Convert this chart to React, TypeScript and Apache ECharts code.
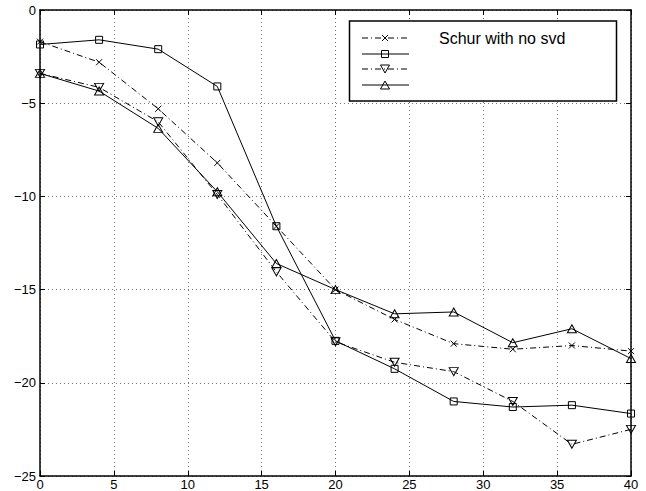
import React, { useEffect, useRef } from "react";
import * as echarts from "echarts";

const xValues = [0, 4, 8, 12, 16, 20, 24, 28, 32, 36, 40];
const schurNoSvd = [-1.7, -2.8, -5.3, -8.2, -11.6, -15.0, -16.6, -17.9, -18.2, -18.0, -18.3];
const squareSeries = [-1.85, -1.6, -2.1, -4.1, -11.6, -17.75, -19.25, -21.0, -21.3, -21.2, -21.65];
const triDownSeries = [-3.4, -4.15, -6.0, -9.9, -14.05, -17.8, -18.9, -19.4, -21.0, -23.3, -22.5];
const triUpSeries = [-3.4, -4.35, -6.35, -9.75, -13.6, -15.0, -16.3, -16.2, -17.85, -17.1, -18.7];
const legendLabels = ["Schur with no svd", "", "", ""];

const FONT = "'Liberation Sans', Arial, Helvetica, sans-serif";
const DASHDOT = [6, 3, 1, 3];

const pairs = (ys: number[]) => xValues.map((x, i) => [x, ys[i]]);

export default function App() {
  const ref = useRef<HTMLDivElement>(null);
  useEffect(() => {
    if (!ref.current) return;
    const chart = echarts.init(ref.current, undefined, { renderer: "svg" });

    const baseSeries = (data: number[], symbol: string, size: any, dashed: boolean, rotate = 0) => ({
      type: "line",
      data: pairs(data),
      symbol,
      symbolSize: size,
      symbolRotate: rotate,
      showSymbol: true,
      lineStyle: { color: "#000", width: 1, type: dashed ? DASHDOT : "solid" },
      itemStyle: { color: "rgba(0,0,0,0)", borderColor: "#000", borderWidth: 1 },
      emphasis: { disabled: true },
      z: 3,
    });

    const lx1 = 362, lx2 = 409, lmx = 385;
    const rows = [38, 54, 69, 85];
    const legendGraphics: any[] = [
      {
        type: "rect",
        shape: { x: 349.5, y: 21, width: 267, height: 80 },
        style: { fill: "#fff", stroke: "#000", lineWidth: 1.5 },
        z: 100,
      },
    ];
    rows.forEach((y, i) => {
      legendGraphics.push({
        type: "line",
        shape: { x1: lx1, y1: y, x2: lx2, y2: y },
        style: { stroke: "#000", lineWidth: 1, lineDash: i % 2 === 0 ? DASHDOT : null },
        z: 101,
      });
      if (legendLabels[i]) {
        legendGraphics.push({
          type: "text",
          x: 439,
          y: y,
          style: { text: legendLabels[i], fill: "#000", font: `16px ${FONT}`, verticalAlign: "middle", textAlign: "left" },
          z: 101,
        });
      }
    });
    legendGraphics.push(
      { type: "line", shape: { x1: lmx - 3, y1: rows[0] - 3, x2: lmx + 3, y2: rows[0] + 3 }, style: { stroke: "#000", lineWidth: 1 }, z: 102 },
      { type: "line", shape: { x1: lmx - 3, y1: rows[0] + 3, x2: lmx + 3, y2: rows[0] - 3 }, style: { stroke: "#000", lineWidth: 1 }, z: 102 },
      { type: "rect", shape: { x: lmx - 3.5, y: rows[1] - 3.5, width: 7, height: 7 }, style: { fill: "none", stroke: "#000", lineWidth: 1 }, z: 102 },
      { type: "polygon", shape: { points: [[lmx - 4.5, rows[2] - 4], [lmx + 4.5, rows[2] - 4], [lmx, rows[2] + 4]] }, style: { fill: "none", stroke: "#000", lineWidth: 1 }, z: 102 },
      { type: "polygon", shape: { points: [[lmx - 4.5, rows[3] + 4], [lmx + 4.5, rows[3] + 4], [lmx, rows[3] - 4]] }, style: { fill: "none", stroke: "#000", lineWidth: 1 }, z: 102 }
    );

    const fmt = (v: number) => String(v).replace("-", "\u2212");

    chart.setOption({
      animation: false,
      backgroundColor: "#fff",
      grid: { left: 40, right: 15, top: 10, bottom: 15, show: false, containLabel: false, outerBoundsMode: "none" },
      xAxis: [
        {
          type: "value",
          min: 0,
          max: 40,
          interval: 5,
          axisLine: { show: true, onZero: false, lineStyle: { color: "#000", width: 1.5 } },
          axisTick: { show: true, inside: true, length: 5, lineStyle: { color: "#000" } },
          axisLabel: { color: "#000", fontFamily: FONT, fontSize: 13, lineHeight: 11, margin: 3, formatter: fmt },
          splitLine: { show: true, lineStyle: { color: "#777", width: 1, type: [1, 3] } },
        },
        {
          type: "value",
          position: "top",
          min: 0,
          max: 40,
          interval: 5,
          axisLine: { show: true, onZero: false, lineStyle: { color: "#000", width: 1.5 } },
          axisTick: { show: true, inside: true, length: 5, lineStyle: { color: "#000" } },
          axisLabel: { show: false },
          splitLine: { show: false },
        },
      ],
      yAxis: [
        {
          type: "value",
          min: -25,
          max: 0,
          interval: 5,
          axisLine: { show: true, onZero: false, lineStyle: { color: "#000", width: 1.5 } },
          axisTick: { show: true, inside: true, length: 5, lineStyle: { color: "#000" } },
          axisLabel: { color: "#000", fontFamily: FONT, fontSize: 13, margin: 4, formatter: fmt },
          splitLine: { show: true, lineStyle: { color: "#777", width: 1, type: [1, 3] } },
        },
        {
          type: "value",
          position: "right",
          min: -25,
          max: 0,
          interval: 5,
          axisLine: { show: true, onZero: false, lineStyle: { color: "#000", width: 1.5 } },
          axisTick: { show: true, inside: true, length: 5, lineStyle: { color: "#000" } },
          axisLabel: { show: false },
          splitLine: { show: false },
        },
      ],
      series: [
        baseSeries(schurNoSvd, "path://M0,0L10,10M10,0L0,10", 6, true),
        baseSeries(squareSeries, "rect", 7, false),
        baseSeries(triDownSeries, "triangle", [9, 8], true, 180),
        baseSeries(triUpSeries, "triangle", [9, 8], false),
      ],
      graphic: legendGraphics,
    });
    return () => chart.dispose();
  }, []);
  return <div ref={ref} style={{ position: "absolute", left: 0, top: 0, width: 646, height: 491 }} />;
}
